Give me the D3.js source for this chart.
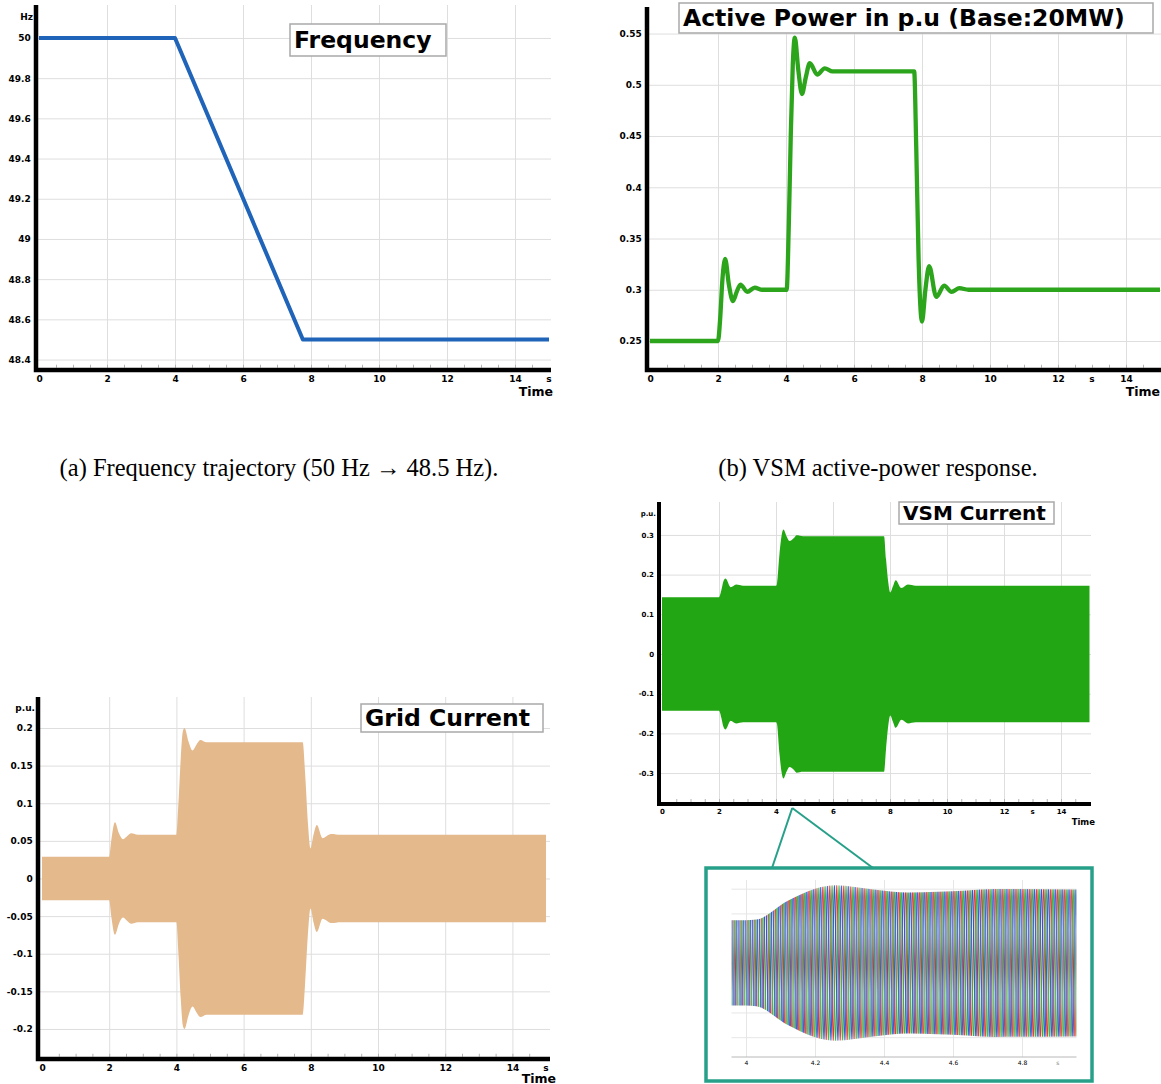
<!DOCTYPE html>
<html>
<head>
<meta charset="utf-8">
<script src="https://cdn.jsdelivr.net/npm/d3@7"></script>
<style>
    body { margin: 0; background: #ffffff; }
    svg { display: block; }
</style>
</head>
<body>
<svg id="drawing_region"></svg>
<script>
// ---------- values ----------
const time_ticks = [0, 2, 4, 6, 8, 10, 12, 14];

// (a) frequency [Hz]
const freq_t  = [0, 4, 7.76, 15];
const freq_hz = [50, 50, 48.5, 48.5];
const freq_ticks = [48.4, 48.6, 48.8, 49, 49.2, 49.4, 49.6, 49.8, 50];

// (b) active power [p.u.]
const power_t  = [0, 2.0, 2.06, 2.13, 2.21, 2.32, 2.44, 2.55, 2.66, 2.86, 3.08, 3.3, 4.02, 4.08, 4.14, 4.2, 4.26, 4.36, 4.47, 4.58, 4.7, 4.92, 5.14, 5.37, 7.77, 7.83, 7.9, 7.95, 8.0, 8.1, 8.21, 8.42, 8.65, 8.87, 9.1, 9.37, 15];
const power_pu = [0.25, 0.25, 0.27, 0.31, 0.33, 0.305, 0.289, 0.298, 0.305, 0.298, 0.302, 0.3, 0.3, 0.36, 0.45, 0.52, 0.546, 0.515, 0.491, 0.507, 0.521, 0.51, 0.516, 0.513, 0.513, 0.44, 0.33, 0.285, 0.269, 0.3, 0.323, 0.293, 0.304, 0.298, 0.3015, 0.3, 0.3];
const power_ticks = [0.25, 0.3, 0.35, 0.4, 0.45, 0.5, 0.55];

// (c) grid current, peak of the 50 Hz envelope [p.u.]
const grid_t   = [0, 2.0, 2.06, 2.17, 2.29, 2.41, 2.53, 2.66, 2.85, 4.0, 4.06, 4.13, 4.19, 4.24, 4.36, 4.48, 4.6, 4.71, 4.9, 7.76, 7.83, 7.92, 7.99, 8.08, 8.18, 8.35, 8.6, 8.9, 15];
const grid_amp = [0.029, 0.029, 0.05, 0.0748, 0.06, 0.052, 0.056, 0.06, 0.058, 0.058, 0.1, 0.16, 0.195, 0.2, 0.182, 0.17, 0.178, 0.184, 0.181, 0.181, 0.14, 0.07, 0.04, 0.058, 0.071, 0.0535, 0.059, 0.058, 0.058];
const grid_ticks = [-0.2, -0.15, -0.1, -0.05, 0, 0.05, 0.1, 0.15, 0.2];

// (d) VSM current, peak of the envelope [p.u.]
const vsm_t   = [0, 2.0, 2.08, 2.15, 2.23, 2.41, 2.6, 2.85, 4.0, 4.03, 4.12, 4.2, 4.26, 4.37, 4.47, 4.64, 4.72, 4.95, 7.79, 7.86, 7.94, 8.01, 8.1, 8.2, 8.4, 8.63, 8.9, 15];
const vsm_amp = [0.143, 0.143, 0.16, 0.182, 0.19, 0.168, 0.175, 0.172, 0.172, 0.175, 0.25, 0.3, 0.314, 0.297, 0.285, 0.293, 0.299, 0.297, 0.297, 0.24, 0.18, 0.155, 0.17, 0.186, 0.166, 0.175, 0.172, 0.172];
const vsm_ticks = [-0.3, -0.2, -0.1, 0, 0.1, 0.2, 0.3];

// inset (zoom of the VSM current around the 4 s step)
const inset_ticks = [4, 4.2, 4.4, 4.6, 4.8];
const inset_grid  = [-0.3, -0.2, -0.1, 0, 0.1, 0.2, 0.3];
const phase_colors = ['#e3392f', '#35b545', '#2f55d4'];
const cycle = 0.02;   // one 50 Hz period, s

const label_font = "'DejaVu Sans', Verdana, sans-serif";
const caption_font = "'Liberation Serif', 'DejaVu Serif', serif";

const svg = d3.select('#drawing_region')
    .attr('width', 1161)
    .attr('height', 1084);
const defs = svg.append('defs');

class TimePlot {

    constructor( config ) {
        this.config = {
            xrange: config.xrange,
            ydomain: config.ydomain,
            top: config.top,
            axis_x: config.axis_x,
            axis_y: config.axis_y,
            axis_end: config.axis_end,
            yticks: config.yticks,
            font_size: config.font_size || 9,
            time_size: config.time_size || 12.5,
            time_x: config.time_x,
            time_y: config.time_y,
            s_at: config.s_at,
            unit: config.unit || '',
            unit_y: config.unit_y || 0,
            title: config.title,
            title_box: config.title_box,
            title_size: config.title_size || 23.5,
            axis_width: config.axis_width || 4.5
        };
        this.init();
    }

    init() {
        let self = this;
        const c = self.config;

        self.xscale = d3.scaleLinear()
            .domain( [0, 15] )
            .range( c.xrange );

        self.yscale = d3.scaleLinear()
            .domain( c.ydomain )
            .range( [c.axis_y, c.top] );

        self.g = svg.append('g');
        self.grid_g = self.g.append('g');
        self.mark_g = self.g.append('g');
        self.frame_g = self.g.append('g');

        // light grid
        self.grid_g.append('g')
            .attr('transform', `translate(0, ${c.axis_y})`)
            .call( d3.axisBottom( self.xscale )
                .tickValues( time_ticks.filter( d => d > 0 ) )
                .tickSize( -(c.axis_y - c.top) )
                .tickFormat('') )
            .call( g => g.select('.domain').remove() )
            .call( g => g.selectAll('line').attr('stroke', '#dedede') );

        self.grid_g.append('g')
            .attr('transform', `translate(${c.axis_x}, 0)`)
            .call( d3.axisLeft( self.yscale )
                .tickValues( c.yticks )
                .tickSize( -(c.axis_end - c.axis_x) )
                .tickFormat('') )
            .call( g => g.select('.domain').remove() )
            .call( g => g.selectAll('line').attr('stroke', '#dedede') );

        // small ticks every 0.5 s sitting on the time axis
        self.grid_g.append('g')
            .attr('transform', `translate(0, ${c.axis_y - c.axis_width / 2})`)
            .call( d3.axisTop( self.xscale )
                .tickValues( d3.range(0.5, 15, 0.5) )
                .tickSize(3)
                .tickFormat('') )
            .call( g => g.select('.domain').remove() )
            .call( g => g.selectAll('line').attr('stroke', '#b4b4b4') );
    }

    line( t, v, color, width, curve ) {
        let self = this;
        const data = t.map( (d, i) => ({t: d, v: v[i]}) );
        self.mark_g.append('path')
            .datum(data)
            .attr('fill', 'none')
            .attr('stroke', color)
            .attr('stroke-width', width)
            .attr('stroke-linejoin', 'round')
            .attr('d', d3.line()
                .x( d => self.xscale( d.t ) )
                .y( d => self.yscale( d.v ) )
                .curve( curve ) );
    }

    band( t, amp, fill ) {
        let self = this;
        const data = t.map( (d, i) => ({t: d, a: amp[i]}) );
        self.mark_g.append('path')
            .datum(data)
            .attr('fill', fill)
            .attr('d', d3.area()
                .x( d => self.xscale( d.t ) )
                .y0( d => self.yscale( -d.a ) )
                .y1( d => self.yscale( d.a ) )
                .curve( d3.curveMonotoneX ) );
    }

    render() {
        let self = this;
        const c = self.config;
        const pad = c.axis_width / 2 + 3;

        self.frame_g.append('path')
            .attr('d', `M${c.axis_x},${c.top} V${c.axis_y} H${c.axis_end}`)
            .attr('fill', 'none')
            .attr('stroke', 'black')
            .attr('stroke-width', c.axis_width);

        self.frame_g.append('g')
            .attr('transform', `translate(0, ${c.axis_y})`)
            .call( d3.axisBottom( self.xscale )
                .tickValues( time_ticks )
                .tickSize(0)
                .tickPadding(pad) )
            .call( g => g.select('.domain').remove() )
            .attr('font-family', label_font)
            .attr('font-size', c.font_size)
            .attr('font-weight', 'bold');

        self.frame_g.append('g')
            .attr('transform', `translate(${c.axis_x}, 0)`)
            .call( d3.axisLeft( self.yscale )
                .tickValues( c.yticks )
                .tickSize(0)
                .tickPadding(pad)
                .tickFormat( d => String(d) ) )
            .call( g => g.select('.domain').remove() )
            .attr('font-family', label_font)
            .attr('font-size', c.font_size)
            .attr('font-weight', 'bold');

        self.frame_g.append('text')
            .attr('x', self.xscale( c.s_at ))
            .attr('y', c.axis_y + pad)
            .attr('dy', '0.71em')
            .attr('text-anchor', 'middle')
            .attr('font-family', label_font)
            .attr('font-size', c.font_size)
            .attr('font-weight', 'bold')
            .text('s');

        self.frame_g.append('text')
            .attr('x', c.time_x)
            .attr('y', c.time_y)
            .attr('text-anchor', 'end')
            .attr('font-family', label_font)
            .attr('font-size', c.time_size)
            .attr('font-weight', 'bold')
            .text('Time');

        if ( c.unit ) {
            self.frame_g.append('text')
                .attr('x', c.axis_x - 3)
                .attr('y', c.unit_y)
                .attr('text-anchor', 'end')
                .attr('font-family', label_font)
                .attr('font-size', c.font_size)
                .attr('font-weight', 'bold')
                .text(c.unit);
        }

        const b = c.title_box;
        self.frame_g.append('rect')
            .attr('x', b[0]).attr('y', b[1])
            .attr('width', b[2]).attr('height', b[3])
            .attr('fill', 'white')
            .attr('stroke', '#a9a9a9')
            .attr('stroke-width', 1.5);

        self.frame_g.append('text')
            .attr('x', b[0] + 4)
            .attr('y', b[1] + b[3] / 2 + c.title_size * 0.36)
            .attr('font-family', label_font)
            .attr('font-size', c.title_size)
            .attr('font-weight', 'bold')
            .attr('fill', 'black')
            .text(c.title);
    }
}

// ---------- (a) frequency ----------
const freq_plot = new TimePlot({
    xrange: [39, 549], ydomain: [48.348, 50.164],
    top: 5, axis_x: 36, axis_y: 370, axis_end: 551,
    yticks: freq_ticks, s_at: 15, time_x: 553, time_y: 395.5,
    unit: 'Hz', unit_y: 20,
    title: 'Frequency', title_box: [290, 24, 156, 32]
});
freq_plot.line( freq_t, freq_hz, '#1f64b8', 4, d3.curveLinear );
freq_plot.render();

// ---------- (b) active power ----------
const power_plot = new TimePlot({
    xrange: [650, 1160], ydomain: [0.2217, 0.5759],
    top: 7, axis_x: 647, axis_y: 370, axis_end: 1165,
    yticks: power_ticks, s_at: 13, time_x: 1160, time_y: 395.5,
    title: 'Active Power in p.u (Base:20MW)', title_box: [679, 3, 474, 30]
});
power_plot.line( power_t, power_pu, '#2ca51c', 4.3, d3.curveMonotoneX );
power_plot.render();

// ---------- (c) grid current ----------
const grid_plot = new TimePlot({
    xrange: [42, 546], ydomain: [-0.2399, 0.2412],
    top: 697, axis_x: 38, axis_y: 1059, axis_end: 550,
    yticks: grid_ticks, s_at: 15, time_x: 556, time_y: 1082.5,
    unit: 'p.u.', unit_y: 711,
    title: 'Grid Current', title_box: [361, 704, 182, 28]
});
grid_plot.band( grid_t, grid_amp, '#e4b98c' );
grid_plot.render();

// ---------- (d) VSM current ----------
const vsm_plot = new TimePlot({
    xrange: [662, 1089.5], ydomain: [-0.378, 0.383],
    top: 502, axis_x: 659, axis_y: 804, axis_end: 1091,
    yticks: vsm_ticks, font_size: 7, time_size: 8.5,
    s_at: 13, time_x: 1095, time_y: 825,
    unit: 'p.u.', unit_y: 516,
    title: 'VSM Current', title_box: [899, 502, 155, 22], title_size: 20,
    axis_width: 4
});
vsm_plot.band( vsm_t, vsm_amp, '#22a613' );
vsm_plot.render();

// ---------- inset ----------
const inset = { left: 731.5, right: 1076.5, top: 880, axis: 1057 };
const ix = d3.scaleLinear().domain([3.958, 4.958]).range([inset.left, inset.right]);
const iy = d3.scaleLinear().domain([-0.38, 0.335]).range([inset.axis, inset.top]);
const teal = '#27a089';

const inset_g = svg.append('g');

inset_g.append('g')
    .attr('transform', `translate(0, ${inset.axis})`)
    .call( d3.axisBottom( ix ).tickValues( inset_ticks ).tickSize( -(inset.axis - inset.top) ).tickFormat('') )
    .call( g => g.select('.domain').remove() )
    .call( g => g.selectAll('line').attr('stroke', '#e6e6e6') );

inset_g.append('g')
    .attr('transform', `translate(${inset.left}, 0)`)
    .call( d3.axisLeft( iy ).tickValues( inset_grid ).tickSize( -(inset.right - inset.left) ).tickFormat('') )
    .call( g => g.select('.domain').remove() )
    .call( g => g.selectAll('line').attr('stroke', '#e6e6e6') );

// three phase currents as a stripe texture, cut to the envelope
const P = ix(3.958 + cycle) - ix(3.958);
const A = iy(0) - iy(0.32);
const H = 2 * A + 2;
const pattern = defs.append('pattern')
    .attr('id', 'phases')
    .attr('patternUnits', 'userSpaceOnUse')
    .attr('x', inset.left)
    .attr('y', iy(0) - H / 2)
    .attr('width', P)
    .attr('height', H);
pattern.append('rect')
    .attr('width', P).attr('height', H)
    .attr('fill', '#f3f1ee');
const wave = d3.line().curve(d3.curveMonotoneX);
phase_colors.forEach( (col, k) => {
    const pts = d3.range(-4, 9).map( j => [j * P / 4 + k * P / 3, H / 2 - [0, 1, 0, -1][(j + 8) % 4] * A] );
    pattern.append('path')
        .attr('d', wave(pts))
        .attr('fill', 'none')
        .attr('stroke', col)
        .attr('stroke-width', 1.1);
});

defs.append('clipPath').attr('id', 'inset_clip')
    .append('rect')
    .attr('x', inset.left).attr('y', inset.top - 10)
    .attr('width', inset.right - inset.left).attr('height', inset.axis - inset.top + 10);

inset_g.append('path')
    .datum( vsm_t.map( (d, i) => ({t: d, a: vsm_amp[i]}) ) )
    .attr('clip-path', 'url(#inset_clip)')
    .attr('fill', 'url(#phases)')
    .attr('d', d3.area()
        .x( d => ix( d.t ) )
        .y0( d => iy( -d.a ) )
        .y1( d => iy( d.a ) )
        .curve( d3.curveMonotoneX ) );

inset_g.append('line')
    .attr('x1', inset.left).attr('x2', inset.right)
    .attr('y1', inset.axis).attr('y2', inset.axis)
    .attr('stroke', '#b8b8b8');

inset_g.append('g')
    .attr('transform', `translate(0, ${inset.axis})`)
    .call( d3.axisBottom( ix ).tickValues( inset_ticks ).tickSize(0).tickPadding(4).tickFormat( d => String(d) ) )
    .call( g => g.select('.domain').remove() )
    .attr('font-family', label_font)
    .attr('font-size', 6)
    .attr('fill', '#777');

inset_g.append('text')
    .attr('x', ix(4.904)).attr('y', inset.axis + 4).attr('dy', '0.71em')
    .attr('text-anchor', 'middle')
    .attr('font-family', label_font).attr('font-size', 6).attr('fill', '#777')
    .text('s');

inset_g.append('rect')
    .attr('x', 706).attr('y', 868)
    .attr('width', 386).attr('height', 213)
    .attr('fill', 'none')
    .attr('stroke', teal)
    .attr('stroke-width', 3.5);

const hinge = [vsm_plot.xscale(4.57), 808];
[[772, 868], [873, 868]].forEach( p => {
    inset_g.append('line')
        .attr('x1', hinge[0]).attr('y1', hinge[1])
        .attr('x2', p[0]).attr('y2', p[1])
        .attr('stroke', teal)
        .attr('stroke-width', 2);
});

// ---------- captions ----------
svg.append('text')
    .attr('x', 279).attr('y', 476)
    .attr('text-anchor', 'middle')
    .attr('font-family', caption_font)
    .attr('font-size', 24.5)
    .text('(a) Frequency trajectory (50 Hz \u2192 48.5 Hz).');

svg.append('text')
    .attr('x', 878).attr('y', 476)
    .attr('text-anchor', 'middle')
    .attr('font-family', caption_font)
    .attr('font-size', 24.5)
    .text('(b) VSM active-power response.');
</script>
</body>
</html>
